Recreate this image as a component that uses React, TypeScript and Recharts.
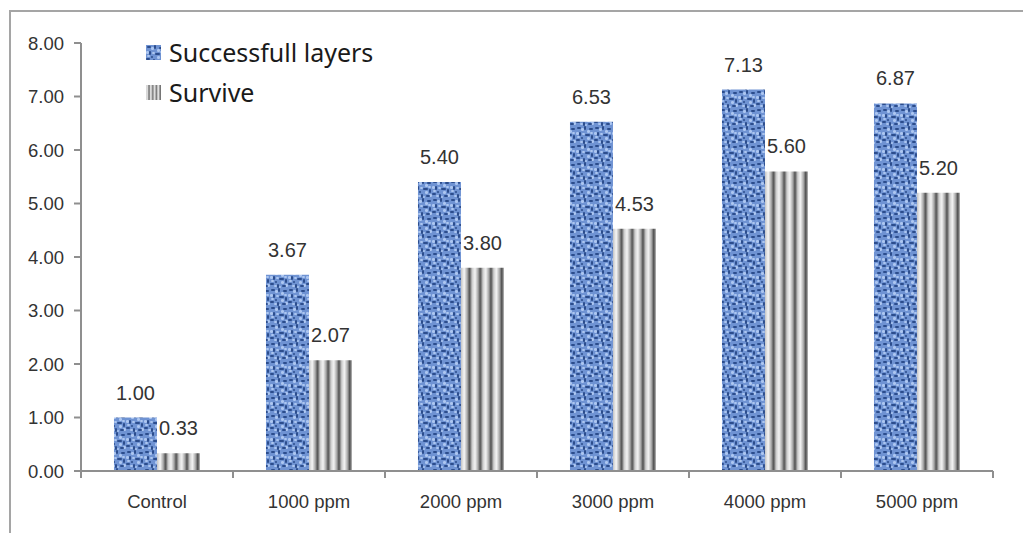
import { BarChart, Bar, XAxis, YAxis, LabelList, Legend } from 'recharts'

const categories = ['Control', '1000 ppm', '2000 ppm', '3000 ppm', '4000 ppm', '5000 ppm']
const successfulLayers = [1.0, 3.67, 5.4, 6.53, 7.13, 6.87]
const survive = [0.33, 2.07, 3.8, 4.53, 5.6, 5.2]
const yTicks = [0, 1, 2, 3, 4, 5, 6, 7, 8]

const data = categories.map((name, i) => ({
  name,
  layers: successfulLayers[i],
  survive: survive[i],
}))

const W = 1023
const H = 533
const MARGIN = { top: 43, right: 30, bottom: 0, left: 0 }
const Y_AXIS_W = 81
const X_AXIS_H = 62
const BAND = (W - MARGIN.left - MARGIN.right - Y_AXIS_W) / categories.length

const AXIS = '#8f8f8f'
const TEXT = '#333333'
const FONT = '"Liberation Sans", Arial, sans-serif'

// blobs for the blue canvas texture
const darkSpots = [
  [1, 1, 4, 2], [8, 0, 2, 4], [13, 2, 4, 2], [3, 6, 2, 4], [9, 8, 5, 2],
  [15, 9, 2, 4], [0, 13, 4, 2], [7, 14, 2, 4], [12, 15, 4, 2], [5, 11, 2, 2],
]
const lightSpots = [
  [5, 2, 3, 3], [11, 4, 3, 3], [0, 6, 3, 3], [6, 7, 3, 2], [14, 6, 3, 2],
  [1, 10, 3, 2], [11, 11, 3, 3], [4, 15, 3, 2], [15, 14, 3, 3], [9, 16, 2, 2],
]

function Patterns() {
  return (
    <defs>
      <pattern id="blueCanvas" width={18} height={18} patternUnits="userSpaceOnUse">
        <rect width={18} height={18} fill="#6f93d3" />
        {lightSpots.map(([x, y, w, h], i) => (
          <rect key={'l' + i} x={x} y={y} width={w} height={h} rx={1.2} fill="#adc7f1" />
        ))}
        {darkSpots.map(([x, y, w, h], i) => (
          <rect key={'d' + i} x={x} y={y} width={w} height={h} rx={1} fill="#2c4d8d" />
        ))}
      </pattern>
      <linearGradient id="stripeGrad" x1="0" y1="0" x2="1" y2="0">
        <stop offset="0" stopColor="#c4c4c4" />
        <stop offset="0.3" stopColor="#f6f6f6" />
        <stop offset="0.6" stopColor="#a4a4a4" />
        <stop offset="0.8" stopColor="#4a4a4a" />
        <stop offset="1" stopColor="#bcbcbc" />
      </linearGradient>
      <pattern
        id="grayStripes"
        width={0.25}
        height={1}
        patternUnits="objectBoundingBox"
        patternContentUnits="objectBoundingBox"
      >
        <rect width={0.25} height={1} fill="url(#stripeGrad)" />
      </pattern>
    </defs>
  )
}

function CategoryTick({ x, y, payload, index }: any) {
  const last = index === categories.length - 1
  return (
    <g>
      <line x1={x - BAND / 2} x2={x - BAND / 2} y1={y} y2={y + 7} stroke={AXIS} strokeWidth={2} />
      {last && (
        <line x1={x + BAND / 2} x2={x + BAND / 2} y1={y} y2={y + 7} stroke={AXIS} strokeWidth={2} />
      )}
      <text x={x} y={y + 37} textAnchor="middle" fill={TEXT} fontSize={18.5} fontFamily={FONT}>
        {payload.value}
      </text>
    </g>
  )
}

function ChartLegend({ payload }: any) {
  return (
    <div style={{ fontFamily: '"Noto Sans", sans-serif', fontSize: 25, color: '#1a1a1a' }}>
      {(payload || []).map((entry: any) => (
        <div key={entry.value} style={{ display: 'flex', alignItems: 'center', height: 40 }}>
          <svg width={15} height={15} style={{ marginRight: 8 }}>
            <rect width={15} height={15} fill={entry.color} />
          </svg>
          {entry.value}
        </div>
      ))}
    </div>
  )
}

export default function App() {
  return (
    <div style={{ position: 'absolute', left: 0, top: 0, width: W, height: H, background: '#fff', fontFamily: FONT }}>
      <div
        style={{
          position: 'absolute',
          left: 9,
          top: 10,
          width: W - 9,
          height: H - 10,
          borderTop: '2px solid #a5a5a5',
          borderLeft: '2px solid #a5a5a5',
          boxSizing: 'border-box',
        }}
      />
      <BarChart
        width={W}
        height={H}
        data={data}
        margin={MARGIN}
        barCategoryGap="21.7%"
        barGap={0}
        style={{ position: 'absolute', left: 0, top: 0 }}
      >
        <Patterns />
        <YAxis
          width={Y_AXIS_W}
          domain={[0, 8]}
          ticks={yTicks}
          interval={0}
          tickFormatter={(v: number) => v.toFixed(2)}
          axisLine={{ stroke: AXIS, strokeWidth: 2 }}
          tickLine={{ stroke: AXIS, strokeWidth: 2 }}
          tickSize={7}
          tickMargin={10}
          tick={{ fill: TEXT, fontSize: 18.5, fontFamily: FONT }}
        />
        <XAxis
          dataKey="name"
          height={X_AXIS_H}
          interval={0}
          axisLine={{ stroke: AXIS, strokeWidth: 2 }}
          tickLine={false}
          tickSize={0}
          tickMargin={0}
          tick={<CategoryTick />}
        />
        <Legend
          layout="vertical"
          align="center"
          verticalAlign="middle"
          content={<ChartLegend />}
          wrapperStyle={{ position: 'absolute', left: 146, top: 32, width: 'auto' }}
        />
        <Bar dataKey="layers" name="Successfull layers" fill="url(#blueCanvas)" isAnimationActive={false}>
          <LabelList
            dataKey="layers"
            position="top"
            offset={18}
            fill={TEXT}
            fontSize={20}
            fontFamily={FONT}
            formatter={(v: any) => Number(v).toFixed(2)}
          />
        </Bar>
        <Bar dataKey="survive" name="Survive" fill="url(#grayStripes)" isAnimationActive={false}>
          <LabelList
            dataKey="survive"
            position="top"
            offset={18}
            fill={TEXT}
            fontSize={20}
            fontFamily={FONT}
            formatter={(v: any) => Number(v).toFixed(2)}
          />
        </Bar>
      </BarChart>
    </div>
  )
}
